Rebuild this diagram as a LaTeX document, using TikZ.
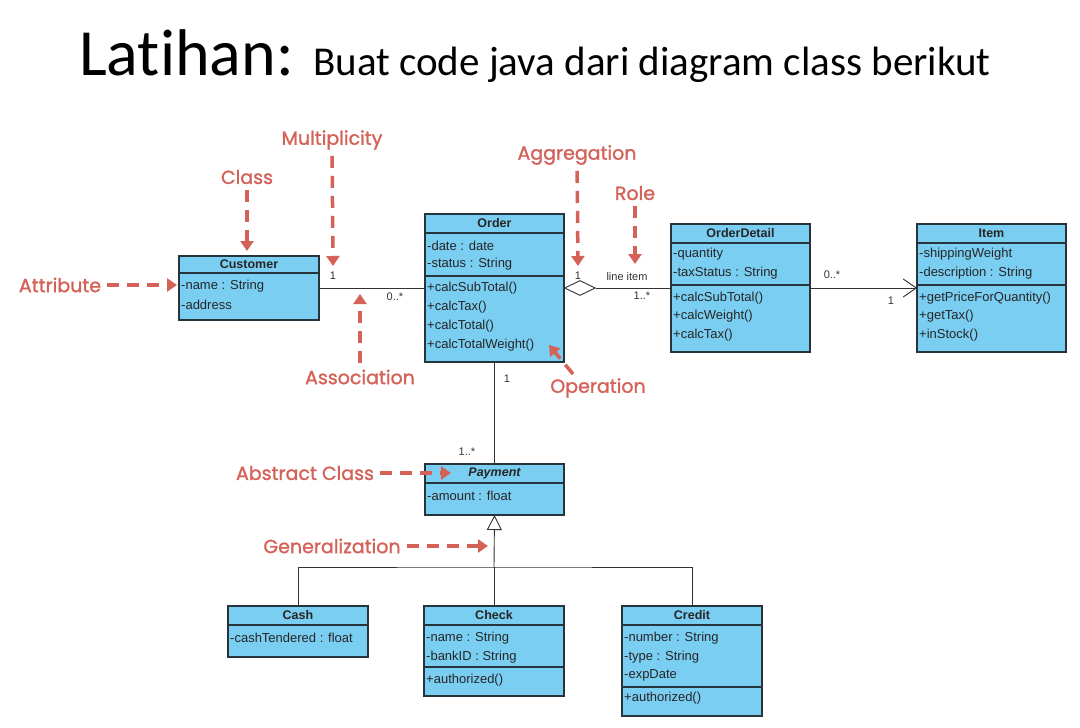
\documentclass[tikz,border=0pt]{standalone}
\usepackage{fontspec}
\setmainfont{Liberation Sans}
\newfontfamily\titlefont{Carlito}[Ligatures=NoCommon]
\newfontfamily\annfont{Poppins}[FakeBold=1.3]
\usetikzlibrary{arrows.meta,shapes.geometric}
\definecolor{clsfill}{RGB}{122,206,242}
\definecolor{clsline}{RGB}{40,52,60}
\definecolor{annred}{RGB}{212,98,88}
\definecolor{connline}{RGB}{50,50,50}
\tikzset{
  cls/.style={draw=clsline, fill=clsfill, line width=1.1pt, anchor=north west, inner sep=0pt, outer sep=0pt},
  cline/.style={draw=clsline, line width=1.1pt},
  txt/.style={anchor=west, inner sep=0pt, font=\fontsize{13}{15}\selectfont, text=black!85},
  hdr/.style={inner sep=0pt, font=\bfseries\fontsize{12.5}{14}\selectfont, text=black!85},
  mult/.style={inner sep=0pt, font=\fontsize{11}{13}\selectfont, text=black!80},
  conn/.style={draw=connline, line width=0.9pt},
  ann/.style={text=annred, font=\annfont\fontsize{19}{21}\selectfont, inner sep=6pt},
  annarr/.style={draw=annred, line width=3.5pt, dash pattern=on 12pt off 8pt, -{Triangle[length=10pt,width=13pt]}},
}
\begin{document}
\begin{tikzpicture}[x=1pt,y=-1pt]
\useasboundingbox[fill=white] (0,0) rectangle (1080,728);

% title
\node[anchor=base west, inner sep=0pt, font=\titlefont\fontsize{66}{70}\selectfont] (title) at (79,75) {Latihan:};
\node[anchor=base west, inner sep=0pt, font=\titlefont\fontsize{41}{44}\selectfont] (subtitle) at (313,75) {Buat code java dari diagram class berikut};

% Customer
\node[cls, minimum width=140pt, minimum height=64pt] (cust) at (179,256) {};
\draw[cline] ([yshift=-17pt]cust.north west) -- ([yshift=-17pt]cust.north east);
\node[hdr] (custN) at (249,264.5) {Customer};
\node[txt] (cust1) at (181,286) {-name : String};
\node[txt] (cust2) at (181,305) {-address};

% Order
\node[cls, minimum width=139pt, minimum height=148pt] (order) at (425,214) {};
\draw[cline] ([yshift=-19pt]order.north west) -- ([yshift=-19pt]order.north east);
\draw[cline] ([yshift=-62pt]order.north west) -- ([yshift=-62pt]order.north east);
\node[hdr] (orderN) at (494.5,223.5) {Order};
\node[txt] (o1) at (427,246) {-date : date};
\node[txt] (o2) at (427,264) {-status : String};
\node[txt] (o3) at (427,288) {+calcSubTotal()};
\node[txt] (o4) at (427,307) {+calcTax()};
\node[txt] (o5) at (427,326) {+calcTotal()};
\node[txt] (o6) at (427,345) {+calcTotalWeight()};

% OrderDetail
\node[cls, minimum width=139pt, minimum height=128pt] (od) at (671,224) {};
\draw[cline] ([yshift=-19pt]od.north west) -- ([yshift=-19pt]od.north east);
\draw[cline] ([yshift=-61pt]od.north west) -- ([yshift=-61pt]od.north east);
\node[hdr] (odN) at (740.5,233.5) {OrderDetail};
\node[txt] (od1) at (673,254) {-quantity};
\node[txt] (od2) at (673,273) {-taxStatus : String};
\node[txt] (od3) at (673,298) {+calcSubTotal()};
\node[txt] (od4) at (673,316) {+calcWeight()};
\node[txt] (od5) at (673,335) {+calcTax()};

% Item
\node[cls, minimum width=149pt, minimum height=128pt] (item) at (917,224) {};
\draw[cline] ([yshift=-19pt]item.north west) -- ([yshift=-19pt]item.north east);
\draw[cline] ([yshift=-61pt]item.north west) -- ([yshift=-61pt]item.north east);
\node[hdr] (itemN) at (991.5,233.5) {Item};
\node[txt] (it1) at (919,254) {-shippingWeight};
\node[txt] (it2) at (919,273) {-description : String};
\node[txt] (it3) at (919,298) {+getPriceForQuantity()};
\node[txt] (it4) at (919,316) {+getTax()};
\node[txt] (it5) at (919,335) {+inStock()};

% Payment
\node[cls, minimum width=139pt, minimum height=51pt] (pay) at (425,464) {};
\draw[cline] ([yshift=-19pt]pay.north west) -- ([yshift=-19pt]pay.north east);
\node[hdr, font=\bfseries\itshape\fontsize{12.5}{14}\selectfont] (payN) at (494.5,473.5) {Payment};
\node[txt] (p1) at (427,496) {-amount : float};

% Cash
\node[cls, minimum width=140pt, minimum height=51pt] (cash) at (228,606) {};
\draw[cline] ([yshift=-19pt]cash.north west) -- ([yshift=-19pt]cash.north east);
\node[hdr] (cashN) at (298,615.5) {Cash};
\node[txt] (c1) at (230,638) {-cashTendered : float};

% Check
\node[cls, minimum width=140pt, minimum height=90pt] (check) at (424,606) {};
\draw[cline] ([yshift=-19pt]check.north west) -- ([yshift=-19pt]check.north east);
\draw[cline] ([yshift=-61pt]check.north west) -- ([yshift=-61pt]check.north east);
\node[hdr] (checkN) at (494,615.5) {Check};
\node[txt] (ch1) at (426,638) {-name : String};
\node[txt] (ch2) at (426,657) {-bankID : String};
\node[txt] (ch3) at (426,680) {+authorized()};

% Credit
\node[cls, minimum width=140pt, minimum height=110pt] (credit) at (622,606) {};
\draw[cline] ([yshift=-19pt]credit.north west) -- ([yshift=-19pt]credit.north east);
\draw[cline] ([yshift=-81pt]credit.north west) -- ([yshift=-81pt]credit.north east);
\node[hdr] (creditN) at (692,615.5) {Credit};
\node[txt] (cr1) at (624,638) {-number : String};
\node[txt] (cr2) at (624,657) {-type : String};
\node[txt] (cr3) at (624,675) {-expDate};
\node[txt] (cr4) at (624,698) {+authorized()};

% connectors
\draw[conn] (cust.east) -- (cust.east -| order.west);
\node[draw=connline, line width=0.9pt, fill=white, diamond, inner sep=0pt, minimum width=31pt, minimum height=15pt, anchor=west] (dia) at (order.east |- 0,288) {};
\draw[conn] (dia.east) -- (dia.east -| od.west);
\draw[conn, -{Straight Barb[length=13pt,width=18pt]}] (od.east |- 0,288) -- (item.west |- 0,288);
\draw[conn] (order.south) -- (pay.north);
\coordinate (jn) at (494,567);
\draw[conn, -{Triangle[open, length=15pt, width=15pt, line width=0.9pt]}] (jn) -- (pay.south);
\draw[conn] (cash.north) |- (jn) -| (credit.north);
\draw[conn] (check.north) -- (jn);

% multiplicities
\node[mult] (m1) at (333,276) {1};
\node[mult] (m2) at (395,297) {0..*};
\node[mult] (m3) at (578,276) {1};
\node[mult] (m4) at (627,277) {line item};
\node[mult] (m5) at (642,296) {1..*};
\node[mult] (m6) at (832,275) {0..*};
\node[mult] (m7) at (891,301) {1};
\node[mult] (m8) at (507,379) {1};
\node[mult] (m9) at (467,452) {1..*};

% annotations
\node[ann] (aMult) at (332,140) {Multiplicity};
\coordinate (tMult) at (333,266);
\draw[annarr] (aMult) -- (tMult);
\node[ann] (aClass) at (247,177) {Class};
\coordinate (tClass) at (247,251);
\draw[annarr] (aClass) -- (tClass);
\node[ann] (aAttr) at (60,285) {Attribute};
\coordinate (tAttr) at (177,285);
\draw[annarr] (aAttr) -- (tAttr);
\node[ann] (aAssoc) at (360,377) {Association};
\coordinate (tAssoc) at (360,294);
\draw[annarr] (aAssoc) -- (tAssoc);
\node[ann] (aAggr) at (577,155) {Aggregation};
\coordinate (tAggr) at (578,266);
\draw[annarr] (aAggr) -- (tAggr);
\node[ann] (aRole) at (635,193) {Role};
\coordinate (tRole) at (635,264);
\draw[annarr] (aRole) -- (tRole);
\node[ann] (aOper) at (598,388) {Operation};
\coordinate (sOper) at (573,374);
\coordinate (tOper) at (549,345);
\draw[annarr] (sOper) -- (tOper);
\node[ann] (aAbs) at (305,473) {Abstract Class};
\coordinate (tAbs) at (451,473);
\draw[annarr] (aAbs) -- (tAbs);
\node[ann] (aGen) at (332,546) {Generalization};
\coordinate (tGen) at (488,546);
\draw[annarr] (aGen) -- (tGen);
\end{tikzpicture}
\end{document}
